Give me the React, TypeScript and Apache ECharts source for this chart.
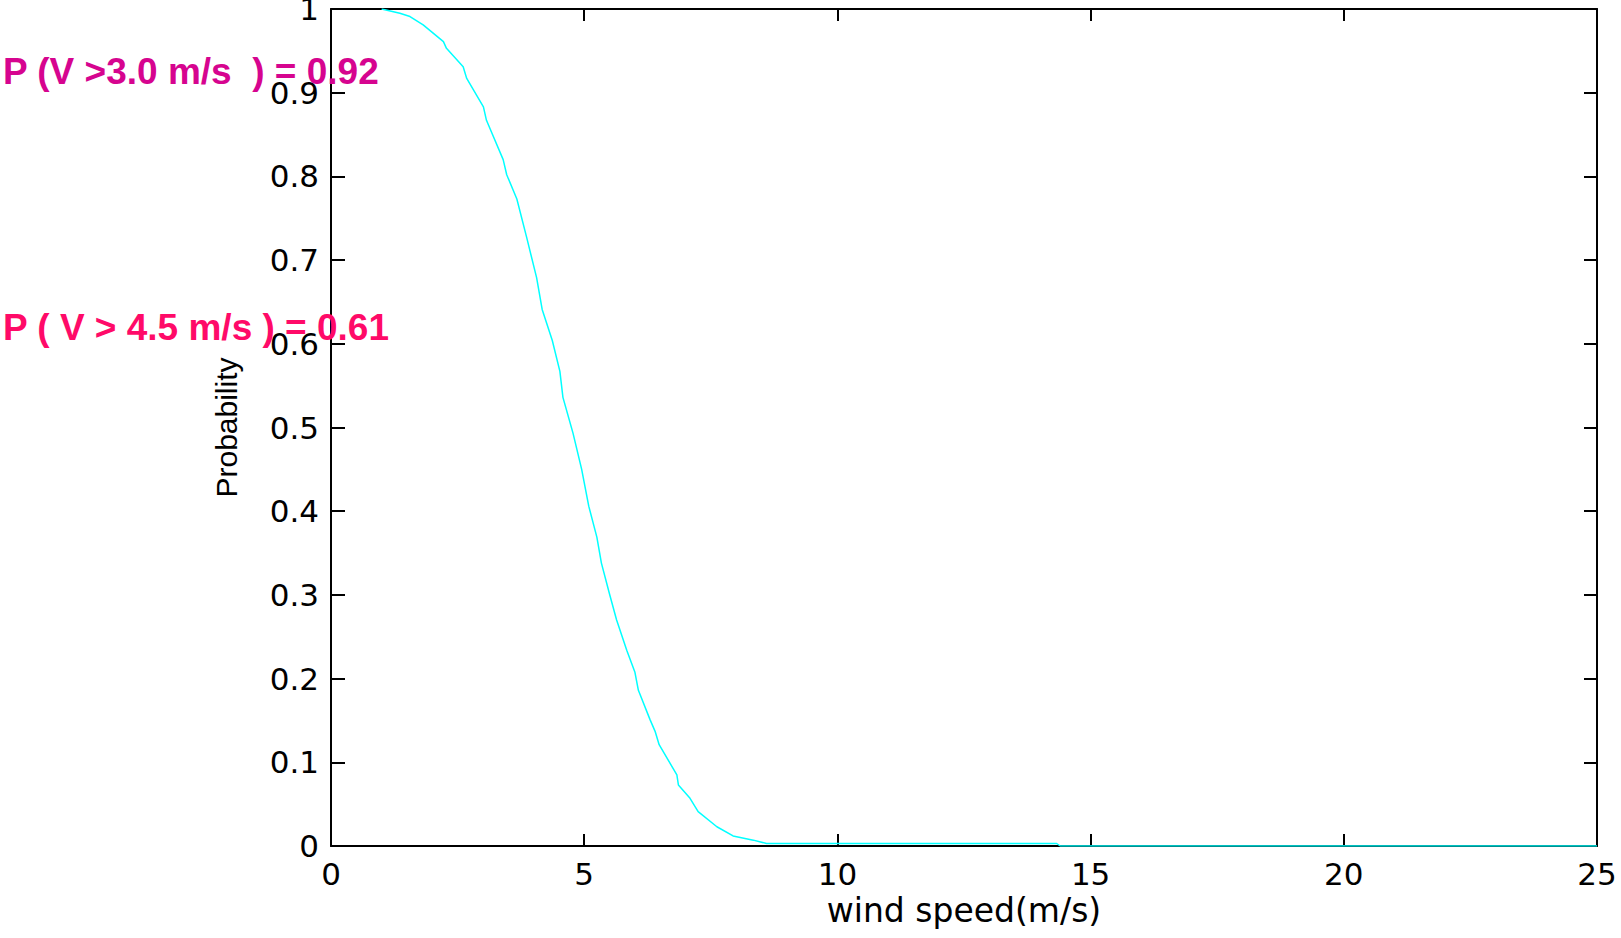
import React, { useEffect, useRef } from "react";
import * as echarts from "echarts";

// wind speed (m/s) and probability P(V > v)
const windSpeed = [
  1.0, 1.36, 1.56, 1.82, 2.22, 2.28, 2.61, 2.68, 3.01, 3.07, 3.4, 3.47, 3.67,
  3.86, 4.06, 4.17, 4.37, 4.52, 4.58, 4.78, 4.95, 5.09, 5.25, 5.34, 5.5, 5.64,
  5.84, 6.0, 6.07, 6.3, 6.4, 6.48, 6.83, 6.86, 7.09, 7.25, 7.62, 7.94, 8.34,
  8.6, 14.33, 14.4, 25,
];
const probability = [
  1.0, 0.995, 0.991, 0.981, 0.961, 0.953, 0.931, 0.917, 0.883, 0.867, 0.82,
  0.802, 0.773, 0.728, 0.679, 0.641, 0.604, 0.567, 0.536, 0.493, 0.45, 0.406,
  0.369, 0.338, 0.301, 0.27, 0.234, 0.208, 0.186, 0.151, 0.137, 0.121, 0.085,
  0.073, 0.057, 0.041, 0.023, 0.012, 0.007, 0.003, 0.003, 0, 0,
];

const xMin = 0;
const xMax = 25;
const xStep = 5;
const yMin = 0;
const yMax = 1;
const yStep = 0.1;

const xAxisName = "wind speed(m/s)";
const yAxisName = "Probability";

const annotationTexts = ["P (V >3.0 m/s  ) = 0.92", "P ( V > 4.5 m/s ) = 0.61"];
const annotationColors = ["#d6048f", "#ff0a68"];

export default function App() {
  const ref = useRef<HTMLDivElement>(null);

  useEffect(() => {
    if (!ref.current) return;
    const chart = echarts.init(ref.current, undefined, { renderer: "svg" });

    const axisLine = { show: true, onZero: false, lineStyle: { color: "#000", width: 2 } };
    const tickStyle = { color: "#000", width: 2 };
    const labelFont = {
      fontFamily: "DejaVu Sans",
      fontSize: 31,
      color: "#000",
    };

    const data = windSpeed.map((v, i) => [v, probability[i]]);

    chart.setOption({
      animation: false,
      backgroundColor: "#fff",
      grid: {
        left: 331,
        right: 24,
        top: 9,
        bottom: 92,
        containLabel: false,
        outerBoundsMode: "none",
      },
      xAxis: [
        {
          type: "value",
          min: xMin,
          max: xMax,
          interval: xStep,
          position: "bottom",
          axisLine,
          axisTick: { show: true, inside: true, length: 12, lineStyle: tickStyle },
          splitLine: { show: false },
          axisLabel: { ...labelFont, margin: 12 },
          name: xAxisName,
          nameLocation: "middle",
          nameGap: 47,
          nameTextStyle: { fontFamily: "DejaVu Sans", fontSize: 33, color: "#000" },
        },
        {
          type: "value",
          min: xMin,
          max: xMax,
          interval: xStep,
          position: "top",
          axisLine,
          axisTick: { show: true, inside: true, length: 12, lineStyle: tickStyle },
          splitLine: { show: false },
          axisLabel: { show: false },
        },
      ],
      yAxis: [
        {
          type: "value",
          min: yMin,
          max: yMax,
          interval: yStep,
          position: "left",
          axisLine,
          axisTick: { show: true, inside: true, length: 14, lineStyle: tickStyle },
          splitLine: { show: false },
          axisLabel: { ...labelFont, margin: 12 },
          name: yAxisName,
          nameLocation: "middle",
          nameGap: 90,
          nameRotate: 90,
          nameTextStyle: {
            fontFamily: "Liberation Sans",
            fontSize: 30,
            color: "#000",
          },
        },
        {
          type: "value",
          min: yMin,
          max: yMax,
          interval: yStep,
          position: "right",
          axisLine,
          axisTick: { show: true, inside: true, length: 13, lineStyle: tickStyle },
          splitLine: { show: false },
          axisLabel: { show: false },
        },
      ],
      series: [
        {
          type: "line",
          xAxisIndex: 0,
          yAxisIndex: 0,
          data,
          showSymbol: false,
          symbol: "none",
          lineStyle: { color: "#00ffff", width: 1.5 },
          itemStyle: { color: "#00ffff" },
          z: 1,
        },
      ],
      graphic: [
        {
          type: "text",
          left: 3,
          top: 53,
          z: 100,
          style: {
            text: annotationTexts[0],
            fill: annotationColors[0],
            font: "bold 37px 'Liberation Sans', Arial, sans-serif",
          },
        },
        {
          type: "text",
          left: 3,
          top: 309,
          z: 100,
          style: {
            text: annotationTexts[1],
            fill: annotationColors[1],
            font: "bold 37px 'Liberation Sans', Arial, sans-serif",
          },
        },
      ],
    });

    return () => chart.dispose();
  }, []);

  return (
    <div
      ref={ref}
      style={{ position: "absolute", left: 0, top: 0, width: 1621, height: 938 }}
    />
  );
}
